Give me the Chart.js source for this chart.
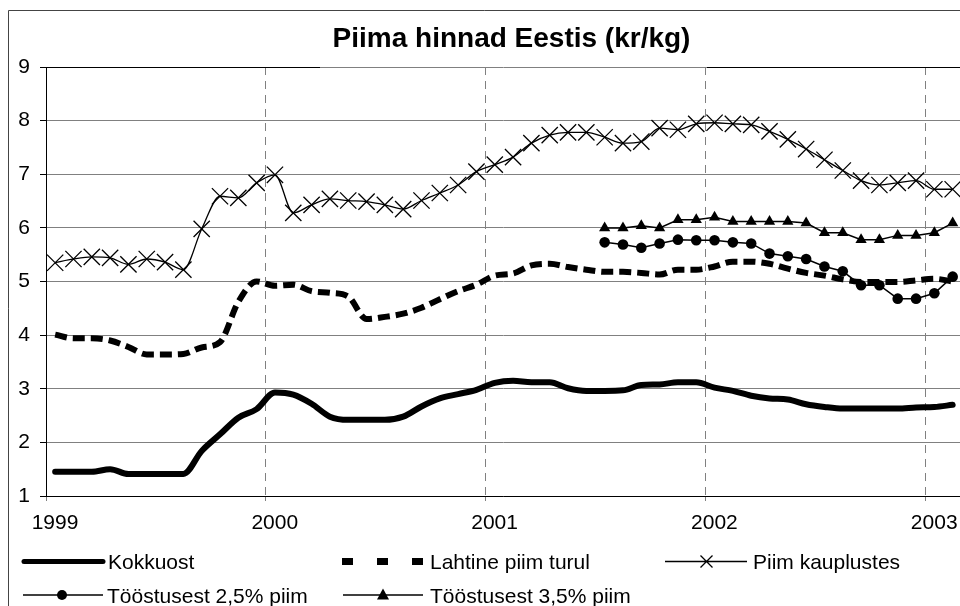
<!DOCTYPE html>
<html><head><meta charset="utf-8">
<script src="https://cdn.jsdelivr.net/npm/chart.js@4.4.1/dist/chart.umd.min.js"></script>
<style>html,body{margin:0;padding:0;background:#fff;} canvas{display:block;}</style>
</head><body>
<canvas id="c" width="960" height="606"></canvas>
<script>
const titleText = 'Piima hinnad Eestis (kr/kg)';
const yearLabels = ['1999','2000','2001','2002','2003'];
const seriesNames = ['Kokkuost','Lahtine piim turul','Piim kauplustes','Tööstusest 2,5% piim','Tööstusest 3,5% piim'];
// monthly values, Jan 1999 .. Feb 2003
const kokkuost = [1.45,1.45,1.45,1.50,1.41,1.41,1.41,1.41,1.84,2.15,2.46,2.62,
  2.93,2.89,2.72,2.48,2.42,2.42,2.42,2.48,2.67,2.82,2.90,2.98,
  3.11,3.15,3.12,3.12,3.01,2.96,2.96,2.97,3.07,3.08,3.12,3.12,
  3.02,2.96,2.87,2.82,2.80,2.71,2.66,2.63,2.63,2.63,2.63,2.65,
  2.66,2.70];
const lahtine = [4.01,3.94,3.94,3.90,3.78,3.64,3.64,3.65,3.77,3.87,4.62,5.00,
  4.92,4.94,4.82,4.79,4.72,4.30,4.34,4.40,4.51,4.67,4.82,4.94,
  5.11,5.15,5.30,5.33,5.27,5.22,5.18,5.18,5.16,5.13,5.22,5.22,
  5.28,5.37,5.37,5.33,5.24,5.16,5.11,5.04,4.99,4.99,4.99,5.02,
  5.05,5.00];
const kauplustes = [5.35,5.42,5.46,5.44,5.32,5.42,5.36,5.22,5.98,6.59,6.56,6.84,
  6.99,6.28,6.43,6.54,6.51,6.49,6.43,6.35,6.51,6.65,6.80,7.05,
  7.18,7.32,7.58,7.73,7.78,7.78,7.69,7.58,7.61,7.86,7.83,7.94,
  7.96,7.94,7.92,7.80,7.65,7.47,7.27,7.07,6.88,6.80,6.84,6.88,
  6.72,6.72];
const toostus25 = [null,null,null,null,null,null,null,null,null,null,null,null,
  null,null,null,null,null,null,null,null,null,null,null,null,
  null,null,null,null,null,null,5.73,5.69,5.63,5.71,5.78,5.77,
  5.77,5.73,5.71,5.52,5.47,5.42,5.28,5.19,4.93,4.93,4.68,4.68,
  4.78,5.09];
const toostus35 = [null,null,null,null,null,null,null,null,null,null,null,null,
  null,null,null,null,null,null,null,null,null,null,null,null,
  null,null,null,null,null,null,6.00,6.00,6.04,6.00,6.15,6.15,
  6.20,6.12,6.12,6.12,6.12,6.09,5.91,5.91,5.78,5.78,5.86,5.86,
  5.91,6.09];

const toXY = arr => arr.map((v, i) => ({x: i + 0.5, y: v}));
const FONT = '"Liberation Sans", Arial, sans-serif';
const X_MAX = 49.9;
const isYear = v => Math.abs(v % 12) < 1e-9;

const decor = {
  id: 'decor',
  afterDraw(chart) {
    const {ctx, chartArea} = chart;
    const {left, top, right} = chartArea;
    ctx.save();
    ctx.strokeStyle = '#000'; ctx.lineWidth = 1;
    ctx.beginPath();
    ctx.moveTo(left, top + 0.5); ctx.lineTo(320, top + 0.5);
    ctx.moveTo(707, top + 0.5); ctx.lineTo(right, top + 0.5);
    ctx.stroke();
    ctx.strokeStyle = '#444';
    ctx.beginPath();
    ctx.moveTo(8.5, 606); ctx.lineTo(8.5, 10.5); ctx.lineTo(960, 10.5);
    ctx.stroke();
    ctx.fillStyle = '#000'; ctx.strokeStyle = '#000';
    ctx.font = 'bold 28px ' + FONT;
    ctx.textAlign = 'center'; ctx.textBaseline = 'alphabetic';
    ctx.fillText(titleText, 511.5, 46.5);
    ctx.font = '21px ' + FONT;
    ctx.textAlign = 'left';
    const r1 = 561.5, r2 = 595;
    ctx.lineWidth = 5; ctx.lineCap = 'round';
    ctx.beginPath(); ctx.moveTo(24, r1); ctx.lineTo(103, r1); ctx.stroke();
    ctx.fillText(seriesNames[0], 108, r1 + 7.5);
    [342, 377, 412].forEach(x => ctx.fillRect(x, r1 - 3.5, 11, 7));
    ctx.fillText(seriesNames[1], 430, r1 + 7.5);
    ctx.lineCap = 'butt'; ctx.lineWidth = 1.3;
    ctx.beginPath(); ctx.moveTo(665, r1); ctx.lineTo(747, r1);
    ctx.moveTo(700.5, r1 - 6); ctx.lineTo(712.5, r1 + 6);
    ctx.moveTo(712.5, r1 - 6); ctx.lineTo(700.5, r1 + 6);
    ctx.stroke();
    ctx.fillText(seriesNames[2], 753, r1 + 7.5);
    ctx.beginPath(); ctx.moveTo(23, r2); ctx.lineTo(103, r2); ctx.stroke();
    ctx.beginPath(); ctx.arc(62, r2, 5, 0, Math.PI * 2); ctx.fill();
    ctx.fillText(seriesNames[3], 107, r2 + 7.5);
    ctx.beginPath(); ctx.moveTo(343, r2); ctx.lineTo(423, r2); ctx.stroke();
    ctx.beginPath(); ctx.moveTo(383, r2 - 6.5); ctx.lineTo(389, r2 + 4.5); ctx.lineTo(377, r2 + 4.5); ctx.closePath(); ctx.fill();
    ctx.fillText(seriesNames[4], 430, r2 + 7.5);
    ctx.restore();
  }
};

new Chart(document.getElementById('c'), {
  type: 'line',
  data: {
    datasets: [
      {label: seriesNames[0], data: toXY(kokkuost), borderColor: '#000', borderWidth: 6,
       pointRadius: 0, cubicInterpolationMode: 'monotone', borderCapStyle: 'round', borderJoinStyle: 'round'},
      {label: seriesNames[1], data: toXY(lahtine), borderColor: '#000', borderWidth: 6,
       borderDash: [12, 6], pointRadius: 0, cubicInterpolationMode: 'monotone', borderCapStyle: 'butt'},
      {label: seriesNames[2], data: toXY(kauplustes), borderColor: '#000', borderWidth: 1.3,
       pointStyle: 'crossRot', pointRadius: 11.5, pointBorderWidth: 1.3, pointBorderColor: '#000',
       pointBackgroundColor: '#000', cubicInterpolationMode: 'monotone'},
      {label: seriesNames[3], data: toXY(toostus25), borderColor: '#000', borderWidth: 1.5,
       pointStyle: 'circle', pointRadius: 5.3, pointBorderWidth: 0, pointBackgroundColor: '#000',
       tension: 0, spanGaps: false},
      {label: seriesNames[4], data: toXY(toostus35), borderColor: '#000', borderWidth: 1.5,
       pointStyle: 'triangle', pointRadius: 6.5, pointBorderWidth: 0, pointBackgroundColor: '#000',
       tension: 0, spanGaps: false}
    ]
  },
  options: {
    responsive: false, animation: false, devicePixelRatio: 1,
    layout: {autoPadding: false, padding: {top: 67, left: 0, right: 0, bottom: 0}},
    plugins: {legend: {display: false}, title: {display: false}, tooltip: {enabled: false}},
    scales: {
      x: {
        type: 'linear', min: 0, max: X_MAX, bounds: 'data',
        afterBuildTicks: ax => { ax.ticks = yearLabels.map((_, k) => ({value: k * 12})); ax.min = 0; ax.max = X_MAX; },
        afterFit: ax => { ax.height = 110; ax.paddingLeft = 0; ax.paddingRight = 0; },
        grid: {
          color: c => (c.tick && isYear(c.tick.value)) ? '#808080' : 'rgba(0,0,0,0)',
          tickColor: c => (c.tick && isYear(c.tick.value)) ? '#808080' : 'rgba(0,0,0,0)',
          lineWidth: 1, tickLength: 5
        },
        border: {color: '#000', width: 1, dash: [8, 6]},
        ticks: {callback: v => isYear(v) ? yearLabels[Math.round(v / 12)] : '', font: {family: FONT, size: 21},
                color: '#000', labelOffset: 9, padding: 10, maxRotation: 0, autoSkip: false}
      },
      y: {
        min: 1, max: 9,
        afterFit: ax => { ax.width = 46; ax.paddingTop = 0; ax.paddingBottom = 0; },
        grid: {color: '#808080', lineWidth: 1, tickLength: 6, tickColor: '#000'},
        border: {color: '#000', width: 1},
        ticks: {stepSize: 1, font: {family: FONT, size: 21}, color: '#000', padding: 10}
      }
    }
  },
  plugins: [decor]
});
</script>
</body></html>
